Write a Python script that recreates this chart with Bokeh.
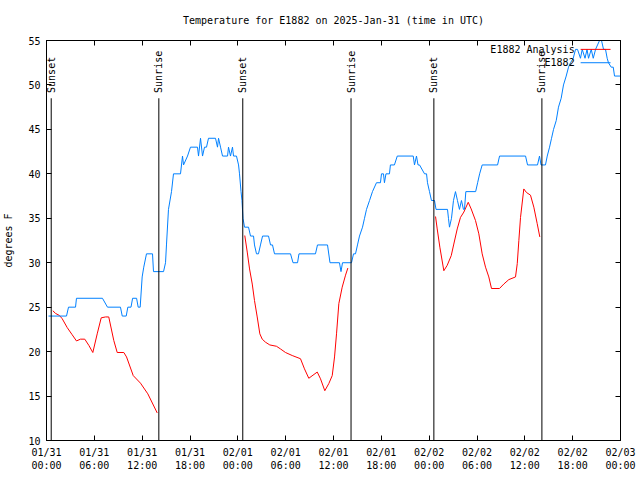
import math
import numpy as np
import pandas as pd
from bokeh.plotting import figure
from bokeh.models import (Range1d, FixedTicker, DatetimeTickFormatter, LinearAxis,
                          DatetimeAxis, CustomJSTickFormatter)
from bokeh.core.properties import value
from bokeh.embed import file_html
from bokeh.resources import INLINE

BASE = pd.Timestamp("2025-01-31 00:00")

# ---------------- data (hours since 2025-01-31 00:00 UTC) ----------------
blue_hours = [0.25, 2.51, 2.76, 3.64, 3.76, 7.02, 7.65, 9.28, 9.5, 10.0, 10.2, 10.6, 10.8,
              11.3, 11.5, 11.75, 12.0, 12.2, 12.54, 13.30, 13.42, 14.68,
              14.93, 15.05, 15.30, 15.68, 15.93, 16.81, 17.06, 17.19, 17.69, 18.06, 18.94,
              19.07, 19.32, 19.57, 19.82, 20.07, 20.32, 21.2, 21.45, 21.58, 21.83, 22.08,
              22.71, 22.83, 23.08, 23.33, 23.46, 23.83, 24.09, 24.21, 24.40, 24.52, 24.65,
              24.84, 25.34, 25.59, 25.97, 26.09, 26.34, 26.59, 26.84, 27.1, 27.85, 28.1,
              28.35, 28.6, 30.61, 30.92, 31.49, 31.67, 33.74, 33.99, 35.25, 35.56, 36.75,
              36.94, 37.13, 38.26, 38.51, 38.76, 39.01, 39.26, 39.64, 39.89, 40.14, 40.52,
              40.89, 41.39, 41.89, 42.02, 42.27, 42.39, 42.58, 43.02, 43.14, 43.64, 44.0,
              46.0, 46.16, 46.41, 46.6, 46.79, 47.42, 47.67, 47.79, 48.04, 48.29, 48.67,
              48.86, 50.3, 50.42, 50.55, 50.8, 51.05, 51.3, 51.55, 51.8, 52.05, 52.3,
              52.43, 52.6, 53.83, 54.08, 54.33, 54.65, 56.58, 56.83, 60.09, 60.34, 61.59,
              61.84, 62.03, 62.59, 62.81, 63.1, 63.35, 63.6, 63.94, 64.22, 64.56, 64.85,
              65.19, 65.48, 65.73, 66.07, 66.36, 66.61, 66.98, 67.2, 67.55, 67.8, 67.99,
              68.33, 68.58, 68.87, 69.12, 69.37, 69.62, 69.87, 70.12, 70.33, 70.49, 70.83,
              71.09, 71.25, 72.0]
blue_temp = [24, 24, 25, 25, 26, 26, 25, 25, 24, 24, 25, 25, 26,
             26, 25, 25, 28.4, 29.5, 31, 31, 29, 29,
             30, 32, 36, 38, 40, 40, 42, 41, 42, 43, 43,
             42, 44, 42, 43, 43, 44, 44, 43, 44, 43, 42,
             42, 43, 42, 43, 42, 42, 41, 40, 38, 37, 35,
             34, 34, 33, 33, 32, 31, 31, 32, 33, 33, 32,
             32, 31, 31, 30, 30, 31, 31, 32, 32, 30, 30,
             29, 30, 30, 31, 31, 32, 33, 34, 35, 36, 37,
             38, 39, 39, 40, 40, 39, 40, 40, 41, 41, 42,
             42, 41, 42, 41, 41, 40, 40, 39, 38, 37, 37,
             36, 36, 35, 34, 35, 37, 38, 37, 36, 37, 36,
             36, 38, 38, 39, 40, 41, 41, 42, 42, 41, 41,
             42, 41, 41, 42, 43, 44, 45, 46, 47.5, 48.5, 50,
             51, 52, 52.5, 53, 54, 54, 53, 54, 53, 54, 53,
             54, 53, 54, 54.5, 55, 55, 54, 54, 53, 52.5, 52,
             52, 51, 51]

red1_hours = [0.79, 1.13, 1.63, 1.97, 2.60, 3.22, 3.76, 4.26, 4.80, 5.31, 5.81, 6.36, 6.86,
              7.40, 7.81, 8.44, 8.87, 9.70, 10.04, 10.88, 11.79, 12.71, 13.89]
red1_temp = [24.6, 24.3, 24.06, 23.7, 22.7, 21.9, 21.2, 21.4, 21.4, 20.7, 19.9, 22.0, 23.8,
             23.9, 23.9, 21.25, 19.9, 19.9, 19.4, 17.3, 16.45, 15.25, 13.1]
red2_hours = [24.87, 25.18, 25.47, 25.81, 26.09, 26.43, 26.76, 27.06, 27.47, 28.01, 28.85,
              29.35, 29.98, 30.82, 31.86, 32.36, 32.90, 33.96, 34.37, 34.91, 35.41, 35.84,
              36.13, 36.38, 36.67, 37.09, 37.51, 37.80]
red2_temp = [33.06, 31.2, 29.3, 27.6, 25.75, 23.9, 22.0, 21.4, 21.06, 20.75, 20.6,
             20.3, 19.9, 19.56, 19.2, 18.06, 17.0, 17.7, 16.94, 15.6, 16.4, 17.3,
             19.4, 22.0, 25.4, 27.25, 28.6, 29.4]
red3_hours = [48.80, 49.01, 49.34, 49.84, 50.26, 50.77, 51.09, 51.52, 51.93, 52.35, 52.90,
              53.27, 53.81, 54.23, 54.65, 55.07, 55.48, 55.82, 56.82, 57.36, 57.99, 58.83,
              59.05, 59.25, 59.46, 59.87, 60.21, 60.71, 61.13, 61.55, 61.88]
red3_temp = [35.2, 33.8, 31.75, 29.1, 29.7, 30.8, 32.1, 33.8, 35.1, 35.7, 36.8,
             36.05, 34.75, 33.25, 31.0, 29.5, 28.4, 27.1, 27.1, 27.6, 28.1, 28.4,
             29.9, 32.5, 35.1, 38.3, 37.9, 37.6, 36.25, 34.4, 32.9]

event_hours = [0.59, 14.09, 24.62, 38.2, 48.59, 62.14]
event_names = ["Sunset", "Sunrise", "Sunset", "Sunrise", "Sunset", "Sunrise"]

tick_times = pd.date_range("2025-01-31 00:00", "2025-02-03 00:00", freq="6h")
y_ticks = [10, 15, 20, 25, 30, 35, 40, 45, 50, 55]

series_names = ["E1882 Analysis", "E1882"]
series_colors = ["#ff0000", "#0080ff"]


def to_time(hours):
    return (BASE + pd.to_timedelta(np.asarray(hours, dtype=float), unit="h")).to_numpy()


FONT = "DejaVu Sans Mono"
FS = "10px"

p = figure(width=640, height=480, x_axis_type="datetime",
           output_backend="svg", toolbar_location=None,
           x_range=Range1d(BASE, BASE + pd.Timedelta(hours=72)),
           y_range=Range1d(10, 55),
           min_border_left=46, min_border_right=20, min_border_top=40, min_border_bottom=40)
p.background_fill_color = "white"
p.border_fill_color = "white"
p.outline_line_color = "black"
p.outline_line_width = 1
p.xgrid.visible = False
p.ygrid.visible = False

p.title.text = "Temperature for E1882 on 2025-Jan-31 (time in UTC)"
p.title.align = "center"
p.title.vertical_align = "top"
p.title.text_font = FONT
p.title.text_font_size = FS
p.title.text_font_style = "normal"
p.title.text_color = "black"
p.title.standoff = 26

tick_ms = (tick_times.asi8 // 10**6).tolist()
fmt = "%m/%d\n%H:%M"
xfmt = DatetimeTickFormatter(hours=fmt, hourmin=fmt, days=fmt, minutes=fmt,
                             minsec=fmt, months=fmt, years=fmt, seconds=fmt)
xa = p.xaxis[0]
xa.ticker = FixedTicker(ticks=tick_ms)
xa.formatter = xfmt
ya = p.yaxis[0]
ya.ticker = FixedTicker(ticks=y_ticks)
ya.axis_label = "degrees F"
ya.axis_label_text_font = FONT
ya.axis_label_text_font_size = FS
ya.axis_label_text_font_style = "normal"
ya.axis_label_text_color = "black"
ya.axis_label_standoff = 11

for ax in (xa, ya):
    ax.major_label_text_font = FONT
    ax.major_label_text_font_size = FS
    ax.major_label_text_color = "black"
    ax.major_tick_in = 5
    ax.major_tick_out = 0
    ax.minor_tick_in = 0
    ax.minor_tick_out = 0
    ax.axis_line_color = "black"
    ax.major_tick_line_color = "black"
    ax.major_label_standoff = 6

blank = CustomJSTickFormatter(code="return ''")
top = DatetimeAxis(ticker=FixedTicker(ticks=tick_ms), formatter=blank,
                   major_tick_in=5, major_tick_out=0, minor_tick_in=0, minor_tick_out=0,
                   major_label_standoff=0, major_label_text_font_size="0px",
                   axis_line_color="black", major_tick_line_color="black")
right = LinearAxis(ticker=FixedTicker(ticks=y_ticks), formatter=blank,
                   major_tick_in=5, major_tick_out=0, minor_tick_in=0, minor_tick_out=0,
                   major_label_standoff=0, major_label_text_font_size="0px",
                   axis_line_color="black", major_tick_line_color="black")
p.add_layout(top, "above")
p.add_layout(right, "right")

# analysis (red) segments
for hrs, tmp in ((red1_hours, red1_temp), (red2_hours, red2_temp), (red3_hours, red3_temp)):
    p.line(to_time(hrs), tmp, line_color=series_colors[0], line_width=1)

# observations (blue)
p.line(to_time(blue_hours), blue_temp, line_color=series_colors[1], line_width=1)

# sunrise / sunset markers
ev_t = to_time(event_hours)
p.segment(x0=ev_t, y0=[10] * len(ev_t), x1=ev_t, y1=[48.5] * len(ev_t),
          line_color="black", line_width=1)
p.text(x=ev_t, y=[49.1] * len(ev_t), text=event_names, angle=math.pi / 2,
       text_align="left", text_baseline="middle",
       text_font=value(FONT), text_font_size=FS, text_color="black")

# legend (label then sample line, like gnuplot)
leg_text_x = to_time([66.25, 66.25])
leg_y = [54.0, 52.5]
p.text(x=leg_text_x, y=leg_y, text=series_names, text_align="right",
       text_baseline="middle", text_font=value(FONT), text_font_size=FS,
       text_color="black")
p.segment(x0=to_time([67.0, 67.0]), y0=leg_y, x1=to_time([70.75, 70.75]), y1=leg_y,
          line_color=series_colors, line_width=1)

open("out.html", "w").write(file_html(p, INLINE))
